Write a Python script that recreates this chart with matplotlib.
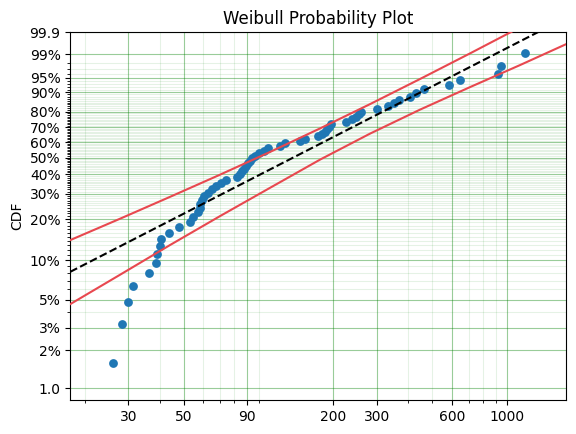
import numpy as np
import matplotlib
matplotlib.use("Agg")
import matplotlib.pyplot as plt
from matplotlib.ticker import FixedLocator, FixedFormatter, NullFormatter

# failure times (sorted) and their plotting positions
fail_times = [25.9, 28.3, 30.0, 31.3, 36.2, 38.6, 39.1, 40.0, 40.7, 43.8,
              48.0, 52.9, 54.6, 57.2, 58.0, 58.2, 59.0, 60.4, 62.7, 65.1,
              67.5, 70.7, 74.1, 82.0, 83.9, 85.5, 87.1, 89.1, 90.8, 92.5,
              94.2, 96.9, 100.5, 105.3, 109.3, 122.1, 127.9, 146.9, 153.8, 173.5,
              180.0, 185.1, 188.5, 192.1, 195.7, 224.8, 237.6, 246.6, 253.5, 258.2,
              299.4, 331.5, 350.4, 367.0, 406.4, 429.6, 462.5, 583.1, 645.4, 917.2,
              943.0, 1177.6]
cdf_pos = [0.016, 0.032, 0.048, 0.064, 0.080, 0.096, 0.112, 0.128, 0.144, 0.160,
           0.176, 0.192, 0.208, 0.224, 0.240, 0.256, 0.272, 0.288, 0.304, 0.320,
           0.336, 0.352, 0.368, 0.384, 0.400, 0.416, 0.432, 0.448, 0.464, 0.480,
           0.496, 0.512, 0.528, 0.544, 0.560, 0.576, 0.592, 0.608, 0.624, 0.640,
           0.656, 0.672, 0.688, 0.704, 0.720, 0.736, 0.752, 0.768, 0.784, 0.800,
           0.816, 0.832, 0.848, 0.864, 0.880, 0.896, 0.912, 0.928, 0.944, 0.960,
           0.9755, 0.991]

# fitted Weibull parameters
fit_alpha = 198.0
fit_beta = 1.015

# confidence bounds (time, CDF)
upper_t = [17.5, 27.8, 44.1, 70.1, 111.3, 176.7, 280.7, 445.8, 707.9, 1024.9, 1233.0]
upper_F = [0.1414, 0.2023, 0.2862, 0.3974, 0.5361, 0.6932, 0.8420, 0.9463,
           0.99067, 0.99894, 0.99975]
lower_t = [17.5, 27.8, 44.1, 70.1, 111.3, 176.7, 280.7, 445.8, 707.9, 1124.2, 1725.4]
lower_F = [0.04604, 0.07778, 0.1301, 0.2111, 0.3283, 0.4867, 0.6584, 0.8113,
           0.9195, 0.9770, 0.99609]

x_major = [30, 50, 90, 200, 300, 600, 1000]
x_minor = [20, 40, 60, 70, 80, 100, 400, 500, 700, 800, 900]
y_major = [0.01, 0.02, 0.03, 0.05, 0.1, 0.2, 0.3, 0.4, 0.5, 0.6, 0.7, 0.8,
           0.9, 0.95, 0.99, 0.999]
y_labels = ['1.0', '2%', '3%', '5%', '10%', '20%', '30%', '40%', '50%', '60%',
            '70%', '80%', '90%', '95%', '99%', '99.9']
y_minor = [p / 100 for p in range(1, 100)]


def weib_fwd(F):
    F = np.clip(np.asarray(F, dtype=float), 1e-12, 1 - 1e-12)
    return np.log(-np.log(1 - F))


def weib_inv(y):
    return 1 - np.exp(-np.exp(y))


fig, ax = plt.subplots(figsize=(5.76, 4.34), dpi=100)
fig.subplots_adjust(left=0.122, right=0.983, bottom=0.078, top=0.926)

ax.set_xscale('log')
ax.set_yscale('function', functions=(weib_fwd, weib_inv))

ax.scatter(fail_times, cdf_pos, s=40, color='#1f77b4', linewidths=0, zorder=2)

xmin, xmax = 17.5, 1725
t_line = np.geomspace(xmin, xmax, 200)
F_line = 1 - np.exp(-(t_line / fit_alpha) ** fit_beta)
ax.plot(t_line, F_line, 'k--', linewidth=1.5, zorder=3)
ax.plot(upper_t, upper_F, color='#e8484f', linewidth=1.5, zorder=3)
ax.plot(lower_t, lower_F, color='#e8484f', linewidth=1.5, zorder=3)

ax.set_xlim(xmin, xmax)
ax.set_ylim(0.00807, 0.999)

ax.xaxis.set_major_locator(FixedLocator(x_major))
ax.xaxis.set_major_formatter(FixedFormatter([str(v) for v in x_major]))
ax.xaxis.set_minor_locator(FixedLocator(x_minor))
ax.xaxis.set_minor_formatter(NullFormatter())
ax.yaxis.set_major_locator(FixedLocator(y_major))
ax.yaxis.set_major_formatter(FixedFormatter(y_labels))
ax.yaxis.set_minor_locator(FixedLocator(y_minor))
ax.yaxis.set_minor_formatter(NullFormatter())

ax.grid(True, which='major', color='g', alpha=0.4, linestyle='-')
ax.grid(True, which='minor', color='g', alpha=0.1, linestyle='-')
ax.set_axisbelow(True)

ax.set_title('Weibull Probability Plot')
ax.set_ylabel('CDF')

fig.savefig('out.png', dpi=100)
